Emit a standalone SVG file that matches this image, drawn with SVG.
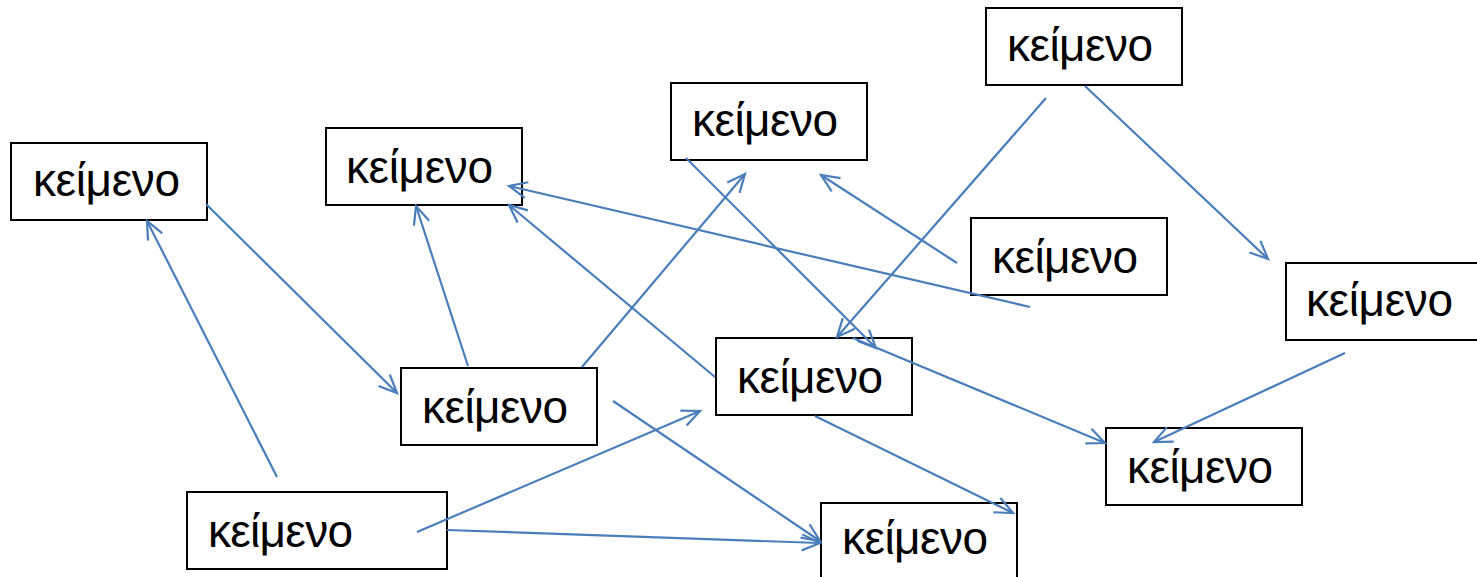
<svg xmlns="http://www.w3.org/2000/svg" width="1477" height="577" viewBox="0 0 1477 577">
<style>
.box{fill:#fff;stroke:#000;stroke-width:2}
.t{font-family:"Liberation Sans","DejaVu Sans",sans-serif;font-size:46px;fill:#000}
.c line{stroke:#4a7ebb;stroke-width:2.2;fill:none;marker-end:url(#ah)}
</style>
<defs>
<marker id="ah" markerUnits="userSpaceOnUse" viewBox="-20 -10 22 20" markerWidth="22" markerHeight="20" refX="0" refY="0" orient="auto" overflow="visible">
<path d="M-18,-8 L0,0 L-18,8" fill="none" stroke="#4a7ebb" stroke-width="2.2"/>
</marker>
</defs>
<rect width="1477" height="577" fill="#fff"/>
<g id="nA"><rect class="box" x="11" y="143" width="196" height="77"/><text class="t" x="33" y="196" textLength="147">κείμενο</text></g>
<g id="nB"><rect class="box" x="326" y="128" width="196" height="77"/><text class="t" x="346" y="183" textLength="147">κείμενο</text></g>
<g id="nC"><rect class="box" x="671" y="83" width="196" height="77"/><text class="t" x="692" y="136" textLength="146">κείμενο</text></g>
<g id="nD"><rect class="box" x="986" y="8" width="196" height="77"/><text class="t" x="1007" y="61" textLength="146">κείμενο</text></g>
<g id="nE"><rect class="box" x="971" y="218" width="196" height="77"/><text class="t" x="992" y="273" textLength="146">κείμενο</text></g>
<g id="nF"><rect class="box" x="1286" y="263" width="200" height="77"/><text class="t" x="1306" y="316" textLength="147">κείμενο</text></g>
<g id="nG"><rect class="box" x="401" y="368" width="196" height="77"/><text class="t" x="422" y="423" textLength="146">κείμενο</text></g>
<g id="nH"><rect class="box" x="716" y="338" width="196" height="77"/><text class="t" x="737" y="393" textLength="146">κείμενο</text></g>
<g id="nI"><rect class="box" x="1106" y="428" width="196" height="77"/><text class="t" x="1127" y="483" textLength="146">κείμενο</text></g>
<g id="nJ"><rect class="box" x="187" y="492" width="260" height="77"/><text class="t" x="208" y="547" textLength="145">κείμενο</text></g>
<g id="nK"><rect class="box" x="821" y="503" width="196" height="80"/><text class="t" x="842" y="554" textLength="146">κείμενο</text></g>
<g id="connectors" class="c">
<line x1="206" y1="204" x2="397" y2="393"/>
<line x1="277" y1="477" x2="147" y2="221"/>
<line x1="468" y1="366" x2="416" y2="206"/>
<line x1="582" y1="367" x2="745" y2="174"/>
<line x1="715" y1="377" x2="509" y2="205"/>
<line x1="1030" y1="307" x2="509" y2="186"/>
<line x1="957" y1="263" x2="821" y2="175"/>
<line x1="1046" y1="98" x2="837" y2="337"/>
<line x1="1085" y1="86" x2="1268" y2="259"/>
<line x1="686" y1="158" x2="876" y2="348"/>
<line x1="853" y1="338" x2="1105" y2="443"/>
<line x1="1345" y1="353" x2="1154" y2="442"/>
<line x1="613" y1="401" x2="820" y2="541"/>
<line x1="417" y1="532" x2="700" y2="411"/>
<line x1="447" y1="530" x2="820" y2="543"/>
<line x1="815" y1="416" x2="1013" y2="513"/>
</g>
</svg>
